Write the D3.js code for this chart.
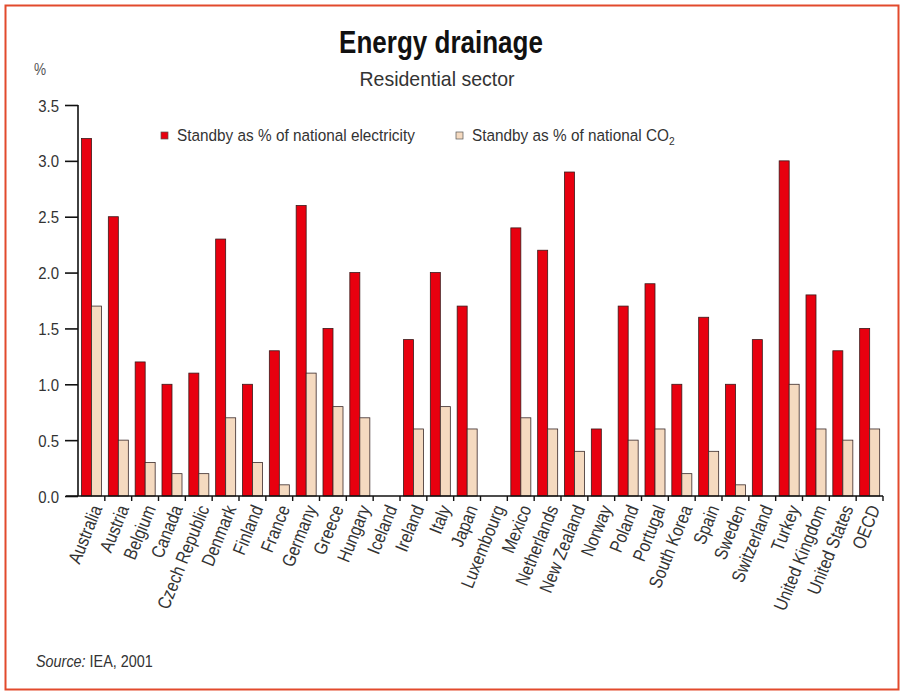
<!DOCTYPE html>
<html>
<head>
<meta charset="utf-8">
<script src="https://cdn.jsdelivr.net/npm/d3@7"></script>
<style>
  html, body { margin: 0; padding: 0; background: #ffffff; }
  svg { display: block; }
</style>
</head>
<body>
<svg id="chart" width="906" height="694"></svg>
<script>
// Standby power use in the residential sector, by country
const countries = ["Australia", "Austria", "Belgium", "Canada", "Czech Republic", "Denmark",
  "Finland", "France", "Germany", "Greece", "Hungary", "Iceland", "Ireland", "Italy", "Japan",
  "Luxembourg", "Mexico", "Netherlands", "New Zealand", "Norway", "Poland", "Portugal",
  "South Korea", "Spain", "Sweden", "Switzerland", "Turkey", "United Kingdom", "United States", "OECD"];
const electricityShare = [3.2, 2.5, 1.2, 1.0, 1.1, 2.3, 1.0, 1.3, 2.6, 1.5, 2.0, 0, 1.4, 2.0, 1.7,
  0, 2.4, 2.2, 2.9, 0.6, 1.7, 1.9, 1.0, 1.6, 1.0, 1.4, 3.0, 1.8, 1.3, 1.5];
const co2Share = [1.7, 0.5, 0.3, 0.2, 0.2, 0.7, 0.3, 0.1, 1.1, 0.8, 0.7, 0, 0.6, 0.8, 0.6,
  0, 0.7, 0.6, 0.4, 0, 0.5, 0.6, 0.2, 0.4, 0.1, 0, 1.0, 0.6, 0.5, 0.6];
const yTicks = [0, 0.5, 1.0, 1.5, 2.0, 2.5, 3.0, 3.5];
const seriesNames = ["Standby as % of national electricity", "Standby as % of national CO"];
const seriesColors = ["#e8000f", "#f5dac0"];

(function draw() {
  const svg = d3.select("#chart");
  const font = '"Liberation Sans", Arial, sans-serif';
  const textColor = "#333";

  // condensed-looking text: place at (x, y) and squeeze horizontally
  function label(parent, x, y, s, size) {
    return parent.append("text")
      .attr("transform", `translate(${x},${y}) scale(${s},1)`)
      .attr("font-family", font).attr("font-size", size).attr("fill", textColor);
  }

  // frame
  svg.append("rect").attr("x", 5.5).attr("y", 5.5).attr("width", 893).attr("height", 684)
    .attr("fill", "#ffffff").attr("stroke", "#e24a2c").attr("stroke-width", 2);

  const plotLeft = 78, plotRight = 883, plotTop = 105, plotBottom = 496;

  const x = d3.scaleBand().domain(countries).range([plotLeft, plotRight]).paddingInner(0).paddingOuter(0);
  const y = d3.scaleLinear().domain([0, 3.5]).range([plotBottom, plotTop]);

  // titles
  label(svg, 441, 53, 0.84, 31).attr("text-anchor", "middle").attr("font-weight", "bold")
    .attr("fill", "#111").text("Energy drainage");
  label(svg, 437, 86, 0.93, 21).attr("text-anchor", "middle").text("Residential sector");
  label(svg, 34, 75, 0.85, 16).attr("fill", "#555").text("%");

  // bars
  const groupPad = 3.5, barW = 10;
  const groups = svg.append("g").selectAll("g").data(countries).join("g")
    .attr("transform", d => `translate(${x(d)},0)`);

  groups.append("rect")
    .attr("x", groupPad).attr("width", barW)
    .attr("y", (d, i) => y(electricityShare[i]))
    .attr("height", (d, i) => y(0) - y(electricityShare[i]))
    .attr("fill", seriesColors[0]).attr("stroke", "#3a1a1a").attr("stroke-width", 0.8)
    .style("display", (d, i) => electricityShare[i] > 0 ? null : "none");

  groups.append("rect")
    .attr("x", groupPad + barW).attr("width", barW)
    .attr("y", (d, i) => y(co2Share[i]))
    .attr("height", (d, i) => y(0) - y(co2Share[i]))
    .attr("fill", seriesColors[1]).attr("stroke", "#3a2a2a").attr("stroke-width", 0.8)
    .style("display", (d, i) => co2Share[i] > 0 ? null : "none");

  // y axis
  const yAxis = d3.axisLeft(y).tickValues(yTicks).tickFormat(d3.format(".1f")).tickSize(13).tickPadding(4);
  const gy = svg.append("g").attr("transform", `translate(${plotLeft},0)`).call(yAxis);
  gy.select(".domain").attr("stroke", "#111").attr("stroke-width", 1.6).attr("d", `M0,${plotTop}V${plotBottom}`);
  gy.selectAll(".tick line").attr("stroke", "#111").attr("stroke-width", 1.6);
  gy.selectAll(".tick text")
    .attr("x", null).attr("dy", "0.36em")
    .attr("transform", "translate(-19,0) scale(0.88,1)")
    .attr("font-family", font).attr("font-size", 17).attr("fill", textColor);

  // x axis: ticks on category boundaries
  const gx = svg.append("g").attr("transform", `translate(0,${plotBottom})`);
  gx.append("line").attr("x1", plotLeft - 12).attr("x2", plotRight).attr("y1", 0).attr("y2", 0)
    .attr("stroke", "#111").attr("stroke-width", 1.6);
  const boundaries = countries.map(c => x(c) + x.bandwidth());
  gx.selectAll("line.tk").data(boundaries).join("line").attr("class", "tk")
    .attr("x1", d => d).attr("x2", d => d).attr("y1", 0).attr("y2", 5)
    .attr("stroke", "#111").attr("stroke-width", 1.4);
  gx.selectAll("text").data(countries).join("text")
    .attr("transform", d => `translate(${x(d) + x.bandwidth() / 2 + 5},${10}) rotate(-68) scale(0.85,1)`)
    .attr("text-anchor", "end").attr("dy", "0.35em")
    .attr("font-family", font).attr("font-size", 18.5).attr("fill", textColor)
    .text(d => d);

  // legend
  const legend = svg.append("g");
  const legendX = [161, 456];
  seriesNames.forEach((name, i) => {
    legend.append("rect").attr("x", legendX[i]).attr("y", 132).attr("width", 7).attr("height", 7)
      .attr("fill", seriesColors[i]).attr("stroke", "#555").attr("stroke-width", 0.7);
    const t = label(legend, legendX[i] + 16, 141, 0.93, 16.5).text(name);
    if (i === 1) t.append("tspan").attr("font-size", 11).attr("dy", 4).text("2");
  });

  // source note
  const src = label(svg, 36, 667, 0.9, 16);
  src.append("tspan").attr("font-style", "italic").text("Source:");
  src.append("tspan").text(" IEA, 2001");
})();
</script>
</body>
</html>
